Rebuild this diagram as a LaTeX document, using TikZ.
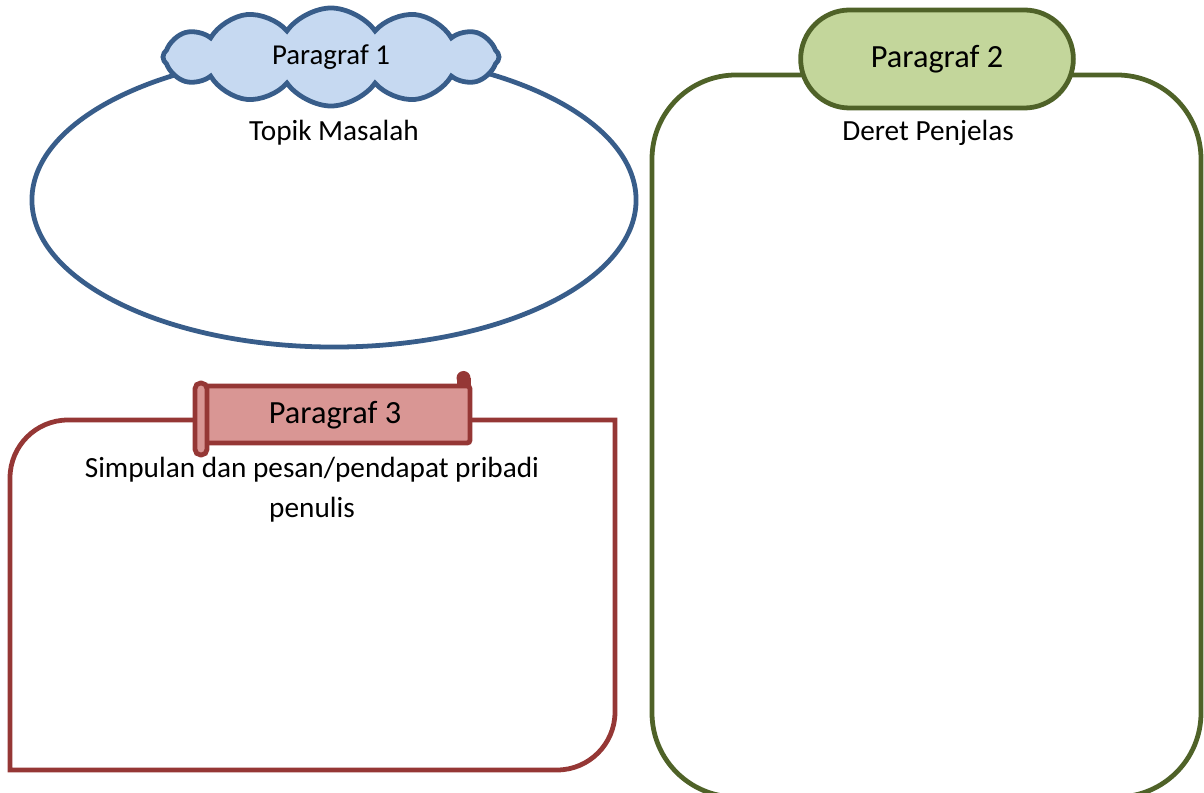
\documentclass[tikz,border=0pt]{standalone}
\usepackage{fontspec}
\setmainfont{Carlito}
\usepackage{tikz}
\usetikzlibrary{shapes.geometric,shapes.symbols,shapes.misc,positioning}

\definecolor{bluline}{HTML}{385D8A}
\definecolor{blufill}{HTML}{C6D9F1}
\definecolor{grnline}{HTML}{4F6228}
\definecolor{grnfill}{HTML}{C3D69B}
\definecolor{redline}{HTML}{953735}
\definecolor{redfill}{HTML}{D99694}

\begin{document}
\begin{tikzpicture}[x=0.025cm,y=-0.025cm,
		thk/.style={line width=3.4pt},
		title/.style={font=\fontsize{23}{27}\selectfont},
		body/.style={font=\fontsize{20.8}{28.5}\selectfont,align=center}]
		\useasboundingbox (0,0) rectangle (1204,793);
		% paragraf 1
		\node[ellipse,draw=bluline,thk,minimum width=15.1cm,minimum height=7.35cm] (topik) at (334,200) {};
		\node[cloud,cloud puffs=12,cloud puff arc=110,cloud ignores aspect,draw=bluline,fill=blufill,thk,minimum width=8.4cm,minimum height=2.45cm,font=\fontsize{20.5}{24}\selectfont] (par1) at (331,57) {Paragraf 1};
		\node[body] (topiktxt) at (334,133) {Topik Masalah};
		% paragraf 2
		\draw[grnline,thk,rounded corners=2.1cm] (652,75) rectangle (1201,797);
		\node[rounded rectangle,draw=grnline,fill=grnfill,thk,minimum width=7.05cm,minimum height=2.45cm,title] (par2) at (937,59) {Paragraf 2};
		\node[body] (deret) at (928,133) {Deret Penjelas};
		% paragraf 3
		\draw[redline,thk] (10,770) -- (10,478) .. controls (10,446) and (36,420) .. (68,420) -- (615,420) -- (615,712) .. controls (615,744) and (589,770) .. (557,770) -- cycle;
		\fill[redline] (463.5,378) circle (7);
		\fill[redline] (456.5,378) rectangle (470.5,390);
		\draw[redline,thk,fill=redfill,rounded corners=2pt] (205,386) rectangle (470,443);
		\draw[redline,thk,fill=redfill,rounded corners=4pt] (195,383) rectangle (207,455);
		\node[title] (par3) at (335,415) {Paragraf 3};
		\node[body] (simpulan) at (312,490) {Simpulan dan pesan/pendapat pribadi\\penulis};
\end{tikzpicture}
\end{document}
